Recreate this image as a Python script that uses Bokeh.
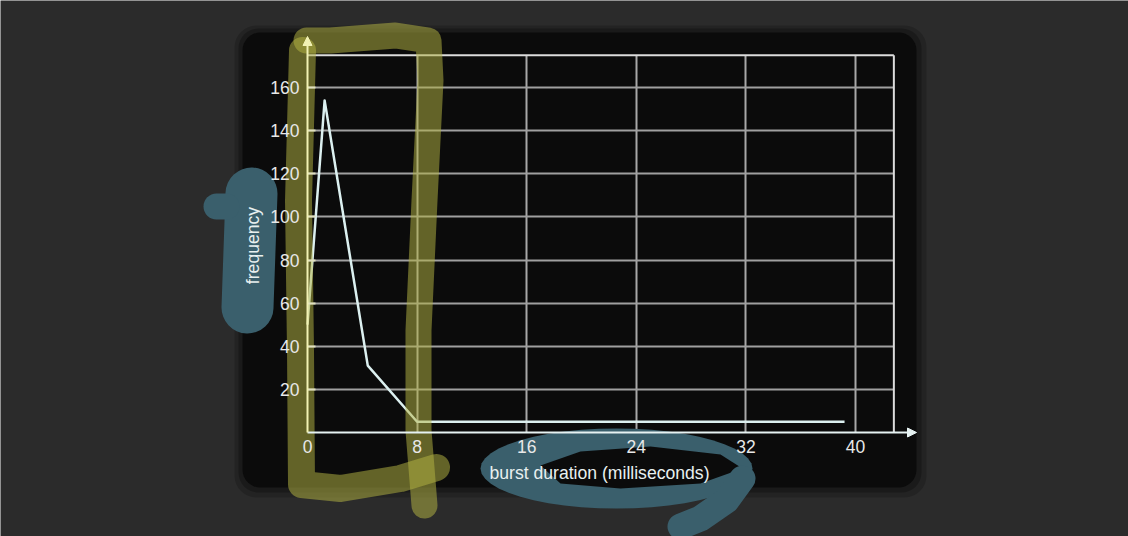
import math
from bokeh.plotting import figure
from bokeh.models import (Range1d, LinearAxis, FixedTicker, Grid, Arrow, NormalHead,
                          BoxAnnotation, Label)
from bokeh.embed import file_html
from bokeh.resources import INLINE

# ---------------- data ----------------
duration_ms = [0, 1.25, 4.4, 8.0, 39.2]
frequency = [50, 154, 31, 5, 5]
x_ticks = [0, 8, 16, 24, 32, 40]
y_ticks = [20, 40, 60, 80, 100, 120, 140, 160]
x_max = 42.8
y_max = 175
x_title = "burst duration (milliseconds)"
y_title = "frequency"

# ---------------- layout helpers (page pixel -> data) ----------------
W, H = 1128, 536
KX = 13.7       # px per ms
KY = 2.15625    # px per count
def dx(px):
    return (px - 307) / KX
def dy(py):
    return (432 - py) / KY

FONT = "Liberation Sans"
BG = "#2b2b2b"
PANEL = "#0b0b0b"

p = figure(width=W, height=H, output_backend="svg", toolbar_location=None,
           x_axis_type=None, y_axis_type=None,
           x_range=Range1d(dx(0), dx(W)), y_range=Range1d(dy(H), dy(0)),
           min_border=0, background_fill_color=BG, border_fill_color=BG,
           outline_line_color=None)

# dark slide panel (with soft shadow)
p.add_layout(BoxAnnotation(left=dx(234), right=dx(926), top=dy(25), bottom=dy(497),
                           fill_color="#000000", fill_alpha=0.18, line_color=None,
                           border_radius=22, level="underlay"))
p.add_layout(BoxAnnotation(left=dx(238), right=dx(921), top=dy(28), bottom=dy(492),
                           fill_color="#000000", fill_alpha=0.25, line_color=None,
                           border_radius=20, level="underlay"))
p.add_layout(BoxAnnotation(left=dx(242), right=dx(916), top=dy(32), bottom=dy(487),
                           fill_color=PANEL, fill_alpha=1.0, line_color=None,
                           border_radius=18, level="underlay"))

# grid
p.add_layout(Grid(dimension=0, ticker=FixedTicker(ticks=[t for t in x_ticks if t > 0]),
                  cross_bounds=(0, y_max), grid_line_color="#a8a8a8", grid_line_width=2))
p.add_layout(Grid(dimension=1, ticker=FixedTicker(ticks=y_ticks),
                  cross_bounds=(0, x_max), grid_line_color="#a0a0a0", grid_line_width=2))
# frame border (top / right)
p.segment(x0=[0, x_max], y0=[y_max, 0], x1=[x_max, x_max], y1=[y_max, y_max],
          line_color="#dcdcdc", line_width=2)

# data line
p.line(duration_ms, frequency, line_color="#dcf0f0", line_width=2.5, line_join="round")

# ---- presenter's highlighter strokes (decoration, page pixels) ----
yellow = "#b4b444"
p.line([dx(v) for v in [306, 330, 395, 428, 430, 424, 418, 418, 424]],
       [dy(v) for v in [40, 40, 35, 40, 80, 200, 330, 430, 505]],
       line_color=yellow, line_alpha=0.52, line_width=26, line_cap="round", line_join="round")
p.line([dx(v) for v in [302, 298, 300, 301, 340, 400, 436]],
       [dy(v) for v in [50, 200, 350, 484, 488, 478, 467]],
       line_color=yellow, line_alpha=0.52, line_width=27, line_cap="round", line_join="round")

blue = "#3a5f6c"
p.line([dx(251), dx(247)], [dy(193), dy(307)], line_color=blue, line_width=52, line_cap="round")
p.line([dx(216), dx(226)], [dy(206), dy(206)], line_color=blue, line_width=26, line_cap="round")

n = 48
ell_x = [dx(616 + 136 * math.cos(2 * math.pi * i / n)) for i in range(n)]
ell_y = [dy(468 + 40 * math.sin(2 * math.pi * i / n)) for i in range(n)]
p.patch(ell_x, ell_y, fill_color=blue, line_color=None)
p.patch([dx(v) for v in [540, 580, 650, 720, 742, 700, 620, 560]],
        [dy(v) for v in [465, 451, 446, 454, 468, 483, 488, 483]],
        fill_color=PANEL, line_color=None)
p.line([dx(v) for v in [742, 726, 700, 680]], [dy(v) for v in [478, 500, 518, 526]],
       line_color=blue, line_width=26, line_cap="round", line_join="round")

# ---- axes (fixed at the origin) ----
xaxis = LinearAxis(fixed_location=0, ticker=FixedTicker(ticks=x_ticks),
                   axis_line_color=None, major_tick_in=0, major_tick_out=0,
                   minor_tick_line_color=None, major_label_standoff=7,
                   major_label_text_color="#e8e8e8", major_label_text_font=FONT,
                   major_label_text_font_size="17.5px")
p.add_layout(xaxis, "below")
yaxis = LinearAxis(fixed_location=0, ticker=FixedTicker(ticks=y_ticks),
                   axis_line_color=None, major_tick_in=8, major_tick_out=0,
                   major_tick_line_color="#e0e0c0", major_tick_line_width=2,
                   minor_tick_line_color=None, major_label_standoff=8,
                   major_label_text_color="#e8e8e8", major_label_text_font=FONT,
                   major_label_text_font_size="17.5px")
p.add_layout(yaxis, "left")

p.add_layout(Arrow(x_start=0, y_start=0, x_end=dx(916), y_end=0,
                   line_color="#e6f2f2", line_width=2,
                   end=NormalHead(size=9, fill_color="#e6f2f2", line_color="#e6f2f2")))
p.add_layout(Arrow(x_start=0, y_start=0, x_end=0, y_end=dy(36),
                   line_color="#f2f2b4", line_width=2,
                   end=NormalHead(size=9, fill_color="#f2f2b4", line_color="#f2f2b4")))

# axis titles
p.add_layout(Label(x=dx(599), y=dy(472), text=x_title, text_align="center",
                   text_baseline="middle", text_color="#e8f0f0", text_font=FONT,
                   text_font_size="17.6px"))
p.add_layout(Label(x=dx(252), y=dy(245), text=y_title, angle=math.pi / 2,
                   text_align="center", text_baseline="middle", text_color="#e8f0f0",
                   text_font=FONT, text_font_size="17.6px"))

open("out.html", "w").write(file_html(p, INLINE))
